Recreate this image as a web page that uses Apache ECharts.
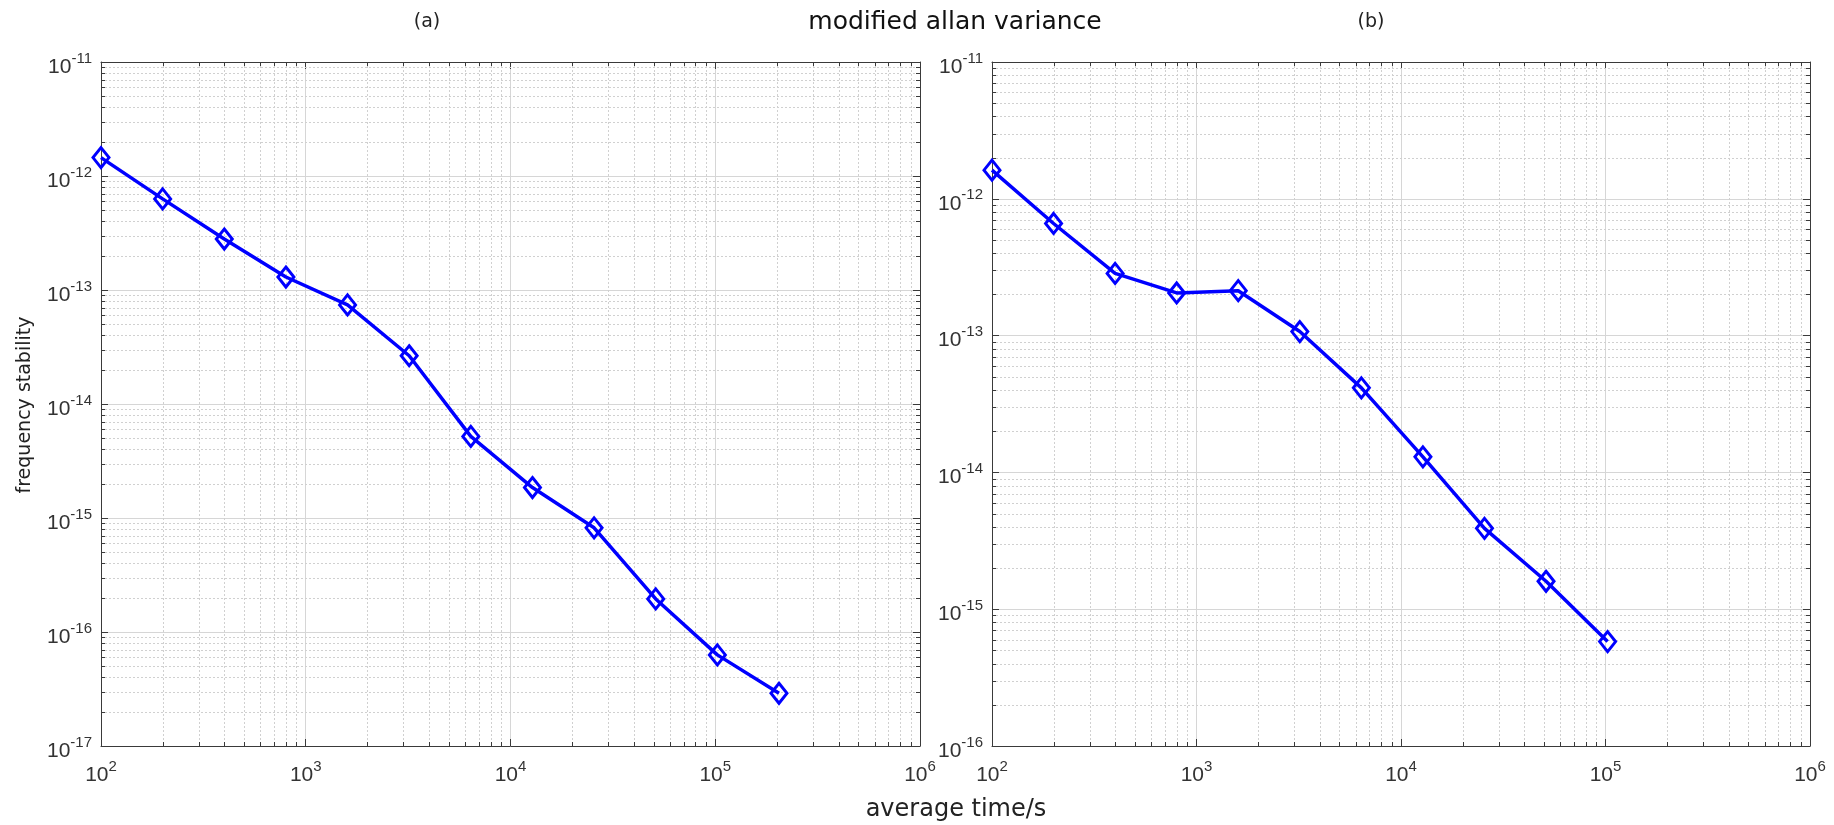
<!DOCTYPE html>
<html>
<head>
<meta charset="utf-8">
<title>modified allan variance</title>
<script src="https://cdn.jsdelivr.net/npm/echarts@6/dist/echarts.min.js"></script>
<style>
html, body { margin: 0; padding: 0; background: #fff; }
#chart { width: 1834px; height: 825px; }
</style>
</head>
<body>
<div id="chart"></div>
<script>
// averaging time (s) and deviation, panel (a)
var tauA = [100, 200, 400, 800, 1600, 3200, 6400, 12800, 25600, 51200, 102400, 204800];
var devA = [1.45e-12, 6.3e-13, 2.8e-13, 1.3e-13, 7.4e-14, 2.65e-14, 5.2e-15, 1.85e-15, 8.2e-16, 1.95e-16, 6.3e-17, 2.9e-17];
// panel (b)
var tauB = [100, 200, 400, 800, 1600, 3200, 6400, 12800, 25600, 51200, 102400];
var devB = [1.62e-12, 6.6e-13, 2.85e-13, 2.05e-13, 2.13e-13, 1.07e-13, 4.15e-14, 1.3e-14, 3.9e-15, 1.6e-15, 5.8e-16];

// decade exponents of the axes (tick labels 10^n)
var xExp = [2, 3, 4, 5, 6];
var yExpA = [-17, -16, -15, -14, -13, -12, -11];
var yExpB = [-16, -15, -14, -13, -12, -11];

var axisColor = '#3a3a3a';
var labelColor = '#333333';

// minor gridline positions 2..9 x 10^n inside each decade
function minorValues(exps) {
    var out = [];
    for (var i = 0; i < exps.length - 1; i++) {
        for (var m = 2; m <= 9; m++) {
            out.push(m * Math.pow(10, exps[i]));
        }
    }
    return out;
}

function expLabel(v) {
    var e = Math.round(Math.log10(v));
    return '{b|10}{s|' + e + '}';
}

var richLabel = {
    b: { fontSize: 21, fontFamily: 'Liberation Sans', color: labelColor, lineHeight: 32 },
    s: { fontSize: 15, fontFamily: 'Liberation Sans', color: labelColor, lineHeight: 13, verticalAlign: 'top' }
};

function pow10(e) { return Math.pow(10, e); }

function xAxisBottom(gi) {
    return {
        type: 'log', logBase: 10, gridIndex: gi,
        min: pow10(xExp[0]), max: pow10(xExp[xExp.length - 1]), splitNumber: 4,
        axisLine: { onZero: false, lineStyle: { color: axisColor, width: 1 } },
        axisTick: { inside: true, length: 7, lineStyle: { color: axisColor } },
        axisLabel: { margin: 13, formatter: expLabel, rich: richLabel },
        splitLine: { show: true, lineStyle: { color: '#d6d6d6', width: 1 } }
    };
}
function xAxisTop(gi) {
    return {
        type: 'log', logBase: 10, gridIndex: gi, position: 'top',
        min: pow10(xExp[0]), max: pow10(xExp[xExp.length - 1]), splitNumber: 4,
        axisLine: { onZero: false, lineStyle: { color: axisColor, width: 1 } },
        axisTick: { inside: true, length: 7, lineStyle: { color: axisColor } },
        axisLabel: { show: false },
        splitLine: { show: false }
    };
}
function yAxisLeft(gi, exps) {
    return {
        type: 'log', logBase: 10, gridIndex: gi,
        min: pow10(exps[0]), max: pow10(exps[exps.length - 1]), splitNumber: exps.length - 1,
        axisLine: { show: true, onZero: false, lineStyle: { color: axisColor, width: 1 } },
        axisTick: { show: true, inside: true, length: 7, lineStyle: { color: axisColor } },
        axisLabel: { margin: 9, padding: [10, 0, 0, 0], formatter: expLabel, rich: richLabel },
        splitLine: { show: true, lineStyle: { color: '#d6d6d6', width: 1 } }
    };
}
function yAxisRight(gi, exps) {
    return {
        type: 'log', logBase: 10, gridIndex: gi, position: 'right',
        min: pow10(exps[0]), max: pow10(exps[exps.length - 1]), splitNumber: exps.length - 1,
        axisLine: { show: true, onZero: false, lineStyle: { color: axisColor, width: 1 } },
        axisTick: { show: true, inside: true, length: 7, lineStyle: { color: axisColor } },
        axisLabel: { show: false },
        splitLine: { show: false }
    };
}

// dotted minor grid + short inside ticks on both sides
function minorRender(dir) {
    return function (params, api) {
        var cs = params.coordSys;
        var p = api.coord([api.value(0), api.value(1)]);
        var dot = { stroke: '#d0d0d0', lineWidth: 1, lineDash: [2, 2] };
        var tk = { stroke: axisColor, lineWidth: 1 };
        var kids;
        if (dir === 'x') {
            var x = Math.round(p[0]) + 0.5, y0 = cs.y, y1 = cs.y + cs.height;
            kids = [
                { type: 'line', shape: { x1: x, y1: y0, x2: x, y2: y1 }, style: dot },
                { type: 'line', shape: { x1: x, y1: y1, x2: x, y2: y1 - 4 }, style: tk },
                { type: 'line', shape: { x1: x, y1: y0, x2: x, y2: y0 + 4 }, style: tk }
            ];
        } else {
            var y = Math.round(p[1]) + 0.5, x0 = cs.x, x1 = cs.x + cs.width;
            kids = [
                { type: 'line', shape: { x1: x0, y1: y, x2: x1, y2: y }, style: dot },
                { type: 'line', shape: { x1: x0, y1: y, x2: x0 + 4, y2: y }, style: tk },
                { type: 'line', shape: { x1: x1, y1: y, x2: x1 - 4, y2: y }, style: tk }
            ];
        }
        return { type: 'group', children: kids };
    };
}

function minorSeries(xi, yi, xExps, yExps) {
    var xm = minorValues(xExps).map(function (v) { return [v, pow10(yExps[0])]; });
    var ym = minorValues(yExps).map(function (v) { return [pow10(xExps[0]), v]; });
    return [
        { type: 'custom', xAxisIndex: xi, yAxisIndex: yi, z: 1, silent: true, renderItem: minorRender('x'), data: xm },
        { type: 'custom', xAxisIndex: xi, yAxisIndex: yi, z: 1, silent: true, renderItem: minorRender('y'), data: ym }
    ];
}

function dataSeries(xi, yi, taus, devs) {
    return {
        type: 'line', xAxisIndex: xi, yAxisIndex: yi, z: 5,
        data: taus.map(function (t, i) { return [t, devs[i]]; }),
        lineStyle: { color: '#0000ff', width: 3.5 },
        symbol: 'diamond', symbolSize: [16, 20],
        itemStyle: { color: 'rgba(0,0,0,0)', borderColor: '#0000ff', borderWidth: 3 },
        emphasis: { disabled: true }
    };
}

var chart = echarts.init(document.getElementById('chart'));
chart.setOption({
    animation: false,
    backgroundColor: '#ffffff',
    grid: [
        { left: 101, top: 62, width: 819, height: 684, outerBoundsMode: 'none' },
        { left: 992, top: 62, width: 818, height: 684, outerBoundsMode: 'none' }
    ],
    xAxis: [xAxisBottom(0), xAxisBottom(1), xAxisTop(0), xAxisTop(1)],
    yAxis: [yAxisLeft(0, yExpA), yAxisLeft(1, yExpB), yAxisRight(0, yExpA), yAxisRight(1, yExpB)],
    series: [].concat(
        minorSeries(0, 0, xExp, yExpA),
        minorSeries(1, 1, xExp, yExpB),
        [dataSeries(0, 0, tauA, devA), dataSeries(1, 1, tauB, devB)]
    ),
    graphic: [
        { type: 'text', x: 955, y: 22, style: { text: 'modified allan variance', fontSize: 25, fontFamily: 'DejaVu Sans', fill: '#111', align: 'center', verticalAlign: 'middle' } },
        { type: 'text', x: 427, y: 22, style: { text: '(a)', fontSize: 19, fontFamily: 'DejaVu Sans', fill: '#222', align: 'center', verticalAlign: 'middle' } },
        { type: 'text', x: 1371, y: 22, style: { text: '(b)', fontSize: 19, fontFamily: 'DejaVu Sans', fill: '#222', align: 'center', verticalAlign: 'middle' } },
        { type: 'text', x: 956, y: 810, style: { text: 'average time/s', fontSize: 24, fontFamily: 'DejaVu Sans', fill: '#222', align: 'center', verticalAlign: 'middle' } },
        { type: 'text', x: 25, y: 405, rotation: Math.PI / 2, style: { text: 'frequency stability', fontSize: 19, fontFamily: 'DejaVu Sans', fill: '#222', align: 'center', verticalAlign: 'middle' } }
    ]
});
</script>
</body>
</html>
